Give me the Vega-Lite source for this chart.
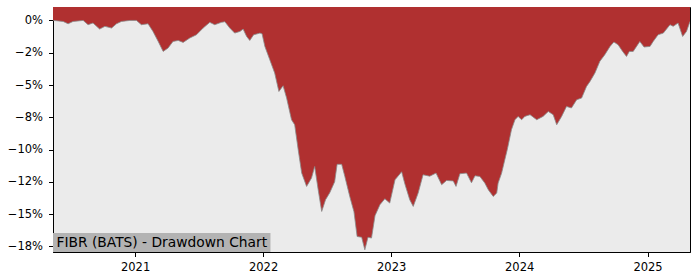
{
  "$schema": "https://vega.github.io/schema/vega-lite/v6.json",
  "width": 637,
  "height": 245,
  "autosize": {"type": "none"},
  "padding": {"left": 53, "top": 7, "right": 10, "bottom": 28},
  "config": {
    "view": {"fill": "#ebebeb", "stroke": "#000000", "strokeWidth": 1},
    "axis": {
      "grid": false,
      "domainColor": "#000000",
      "tickColor": "#000000",
      "tickSize": 4.5,
      "labelColor": "#000000",
      "labelFont": "DejaVu Sans",
      "labelFontSize": 11.5,
      "labelPadding": 5,
      "labelOverlap": false,
      "title": null
    },
    "axisY": {"labelPadding": 6}
  },
  "datasets": {
    "drawdown": [
      {"date": "2020-05-12", "dd": 0},
      {"date": "2020-05-14", "dd": 0},
      {"date": "2020-06-10", "dd": -0.08},
      {"date": "2020-06-24", "dd": -0.26},
      {"date": "2020-07-08", "dd": -0.08},
      {"date": "2020-08-06", "dd": 0},
      {"date": "2020-08-20", "dd": -0.33},
      {"date": "2020-09-03", "dd": -0.2},
      {"date": "2020-09-22", "dd": -0.67},
      {"date": "2020-10-07", "dd": -0.46},
      {"date": "2020-10-26", "dd": -0.59},
      {"date": "2020-11-09", "dd": -0.26},
      {"date": "2020-11-23", "dd": -0.08},
      {"date": "2020-12-17", "dd": 0},
      {"date": "2021-01-05", "dd": 0},
      {"date": "2021-01-19", "dd": -0.33},
      {"date": "2021-02-07", "dd": -0.26},
      {"date": "2021-02-21", "dd": -0.85},
      {"date": "2021-03-08", "dd": -1.63},
      {"date": "2021-03-22", "dd": -2.4},
      {"date": "2021-04-05", "dd": -2.14},
      {"date": "2021-04-19", "dd": -1.63},
      {"date": "2021-05-04", "dd": -1.55},
      {"date": "2021-05-18", "dd": -1.7},
      {"date": "2021-06-06", "dd": -1.36},
      {"date": "2021-06-25", "dd": -1.11},
      {"date": "2021-07-14", "dd": -0.59},
      {"date": "2021-08-02", "dd": -0.15},
      {"date": "2021-08-16", "dd": -0.33},
      {"date": "2021-09-04", "dd": -0.15},
      {"date": "2021-09-14", "dd": -0.1},
      {"date": "2021-09-28", "dd": -0.59},
      {"date": "2021-10-12", "dd": -0.98},
      {"date": "2021-10-27", "dd": -0.85},
      {"date": "2021-11-05", "dd": -0.67},
      {"date": "2021-11-15", "dd": -1.24},
      {"date": "2021-11-24", "dd": -1.55},
      {"date": "2021-12-05", "dd": -1.11},
      {"date": "2021-12-23", "dd": -0.98},
      {"date": "2021-12-29", "dd": -1.03},
      {"date": "2022-01-06", "dd": -2.01},
      {"date": "2022-01-20", "dd": -3.04},
      {"date": "2022-02-03", "dd": -4.07},
      {"date": "2022-02-15", "dd": -5.5},
      {"date": "2022-02-27", "dd": -5.06},
      {"date": "2022-03-09", "dd": -6.01},
      {"date": "2022-03-23", "dd": -7.69},
      {"date": "2022-04-01", "dd": -8.08},
      {"date": "2022-04-11", "dd": -10.01},
      {"date": "2022-04-21", "dd": -11.82},
      {"date": "2022-05-05", "dd": -12.85},
      {"date": "2022-05-19", "dd": -12.2},
      {"date": "2022-05-28", "dd": -11.31},
      {"date": "2022-06-07", "dd": -13.11},
      {"date": "2022-06-17", "dd": -14.79},
      {"date": "2022-06-28", "dd": -13.88},
      {"date": "2022-07-10", "dd": -13.34},
      {"date": "2022-07-24", "dd": -12.49},
      {"date": "2022-07-31", "dd": -11.14},
      {"date": "2022-08-13", "dd": -11.14},
      {"date": "2022-08-22", "dd": -12.08},
      {"date": "2022-09-05", "dd": -13.63},
      {"date": "2022-09-17", "dd": -14.81},
      {"date": "2022-09-26", "dd": -16.73},
      {"date": "2022-10-09", "dd": -16.79},
      {"date": "2022-10-18", "dd": -17.76},
      {"date": "2022-10-27", "dd": -16.79},
      {"date": "2022-11-06", "dd": -16.85},
      {"date": "2022-11-16", "dd": -15.12},
      {"date": "2022-11-30", "dd": -14.27},
      {"date": "2022-12-14", "dd": -13.81},
      {"date": "2022-12-28", "dd": -14.14},
      {"date": "2023-01-12", "dd": -12.34},
      {"date": "2023-01-31", "dd": -11.72},
      {"date": "2023-02-09", "dd": -12.65},
      {"date": "2023-02-23", "dd": -13.88},
      {"date": "2023-03-05", "dd": -14.4},
      {"date": "2023-03-19", "dd": -13.37},
      {"date": "2023-04-02", "dd": -11.95},
      {"date": "2023-04-21", "dd": -12.06},
      {"date": "2023-05-09", "dd": -11.82},
      {"date": "2023-05-25", "dd": -12.72},
      {"date": "2023-06-08", "dd": -12.39},
      {"date": "2023-06-27", "dd": -12.43},
      {"date": "2023-07-05", "dd": -12.85},
      {"date": "2023-07-16", "dd": -11.87},
      {"date": "2023-08-04", "dd": -11.82},
      {"date": "2023-08-18", "dd": -12.57},
      {"date": "2023-08-28", "dd": -12.03},
      {"date": "2023-09-11", "dd": -12.08},
      {"date": "2023-09-25", "dd": -12.59},
      {"date": "2023-10-05", "dd": -13.11},
      {"date": "2023-10-19", "dd": -13.63},
      {"date": "2023-10-29", "dd": -13.37},
      {"date": "2023-11-02", "dd": -12.59},
      {"date": "2023-11-12", "dd": -11.82},
      {"date": "2023-11-21", "dd": -10.79},
      {"date": "2023-11-28", "dd": -10.01},
      {"date": "2023-12-10", "dd": -8.46},
      {"date": "2023-12-20", "dd": -7.69},
      {"date": "2023-12-29", "dd": -7.43},
      {"date": "2024-01-08", "dd": -7.69},
      {"date": "2024-01-17", "dd": -7.43},
      {"date": "2024-02-01", "dd": -7.3},
      {"date": "2024-02-20", "dd": -7.69},
      {"date": "2024-03-09", "dd": -7.43},
      {"date": "2024-03-24", "dd": -7.05},
      {"date": "2024-04-07", "dd": -7.3},
      {"date": "2024-04-17", "dd": -8.08},
      {"date": "2024-05-01", "dd": -7.43},
      {"date": "2024-05-15", "dd": -6.66},
      {"date": "2024-05-29", "dd": -6.78},
      {"date": "2024-06-13", "dd": -6.14},
      {"date": "2024-06-27", "dd": -6.01},
      {"date": "2024-07-11", "dd": -5.11},
      {"date": "2024-07-21", "dd": -4.72},
      {"date": "2024-08-04", "dd": -4.07},
      {"date": "2024-08-18", "dd": -3.17},
      {"date": "2024-09-01", "dd": -2.66},
      {"date": "2024-09-16", "dd": -2.01},
      {"date": "2024-09-27", "dd": -1.67},
      {"date": "2024-10-09", "dd": -1.88},
      {"date": "2024-10-22", "dd": -2.4},
      {"date": "2024-11-02", "dd": -2.79},
      {"date": "2024-11-10", "dd": -2.4},
      {"date": "2024-11-21", "dd": -2.4},
      {"date": "2024-12-10", "dd": -1.63},
      {"date": "2024-12-22", "dd": -2.06},
      {"date": "2025-01-08", "dd": -2.01},
      {"date": "2025-01-17", "dd": -1.63},
      {"date": "2025-01-31", "dd": -1.11},
      {"date": "2025-02-15", "dd": -0.98},
      {"date": "2025-03-06", "dd": -0.33},
      {"date": "2025-03-15", "dd": -0.46},
      {"date": "2025-03-29", "dd": -0.2},
      {"date": "2025-04-11", "dd": -1.24},
      {"date": "2025-04-22", "dd": -0.85},
      {"date": "2025-05-02", "dd": -0.08}
    ],
    "caption": [
      {"label": "FIBR (BATS) - Drawdown Chart"}
    ]
  },
  "layer": [
    {
      "data": {"name": "drawdown"},
      "mark": {"type": "area", "color": "#b03030", "clip": true},
      "encoding": {
        "x": {
          "field": "date",
          "type": "temporal",
          "scale": {"type": "utc", "domain": [1589241600000, 1746144000000], "nice": false},
          "axis": {"format": "%Y", "values": [1609459200000, 1640995200000, 1672531200000, 1704067200000, 1735689600000]}
        },
        "y": {
          "field": "dd",
          "type": "quantitative",
          "scale": {"domain": [-17.93, 1.04], "nice": false, "zero": false},
          "axis": {
            "values": [0, -2.5, -5, -7.5, -10, -12.5, -15, -17.5],
            "labelExpr": "['0%','−2%','−5%','−8%','−10%','−12%','−15%','−18%'][round(-datum.value/2.5)]"
          }
        },
        "y2": {"datum": 1.04}
      }
    },
    {
      "data": {"name": "drawdown"},
      "mark": {"type": "line", "color": "#8a8a8a", "strokeWidth": 0.8, "clip": true},
      "encoding": {
        "x": {
          "field": "date",
          "type": "temporal",
          "axis": {"format": "%Y", "values": [1609459200000, 1640995200000, 1672531200000, 1704067200000, 1735689600000]}
        },
        "y": {
          "field": "dd",
          "type": "quantitative",
          "axis": {
            "values": [0, -2.5, -5, -7.5, -10, -12.5, -15, -17.5],
            "labelExpr": "['0%','−2%','−5%','−8%','−10%','−12%','−15%','−18%'][round(-datum.value/2.5)]"
          }
        }
      }
    },
    {
      "data": {"name": "caption"},
      "mark": {"type": "rect", "color": "#b3b3b3", "clip": true},
      "encoding": {
        "x": {
          "datum": 1589241600000,
          "type": "temporal",
          "axis": {"format": "%Y", "values": [1609459200000, 1640995200000, 1672531200000, 1704067200000, 1735689600000]}
        },
        "x2": {"datum": 1642809600000},
        "y": {
          "datum": -17.93,
          "type": "quantitative",
          "axis": {
            "values": [0, -2.5, -5, -7.5, -10, -12.5, -15, -17.5],
            "labelExpr": "['0%','−2%','−5%','−8%','−10%','−12%','−15%','−18%'][round(-datum.value/2.5)]"
          }
        },
        "y2": {"datum": -16.46}
      }
    },
    {
      "data": {"name": "caption"},
      "mark": {"type": "text", "align": "left", "baseline": "alphabetic", "font": "DejaVu Sans", "fontSize": 13.8, "color": "#000000"},
      "encoding": {
        "x": {
          "datum": 1590105600000,
          "type": "temporal",
          "axis": {"format": "%Y", "values": [1609459200000, 1640995200000, 1672531200000, 1704067200000, 1735689600000]}
        },
        "y": {
          "datum": -17.55,
          "type": "quantitative",
          "axis": {
            "values": [0, -2.5, -5, -7.5, -10, -12.5, -15, -17.5],
            "labelExpr": "['0%','−2%','−5%','−8%','−10%','−12%','−15%','−18%'][round(-datum.value/2.5)]"
          }
        },
        "text": {"field": "label"}
      }
    }
  ]
}
